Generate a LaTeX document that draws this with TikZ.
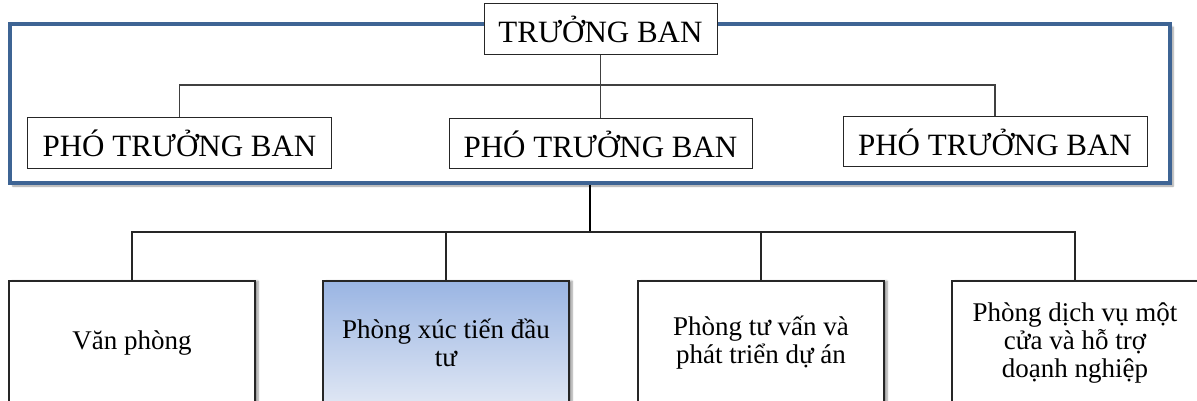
\documentclass[tikz,border=0pt]{standalone}
\usepackage{fontspec}
\setmainfont{Liberation Serif}
\usetikzlibrary{shadows.blur}
\definecolor{framecol}{HTML}{3E6494}
\definecolor{linkgray}{HTML}{404040}
\definecolor{gradtop}{HTML}{9AB5E3}
\definecolor{gradbot}{HTML}{E0E7F4}
\tikzset{
  lead/.style={draw=black!85, line width=1pt, fill=white, inner sep=0pt,
    font=\fontsize{31}{36}\selectfont},
  unit/.style={draw=black!85, line width=1.1pt, fill=white, inner sep=0pt,
    minimum width=246, minimum height=124, align=center,
    font=\fontsize{27}{28}\selectfont,
    blur shadow={shadow xshift=3pt, shadow yshift=0pt, shadow blur steps=6,
      shadow blur extra rounding=0pt, shadow opacity=40}},
  shaded unit/.style={unit, top color=gradtop, bottom color=gradbot},
  board/.style={draw=framecol, line width=3.5pt, fill=white,
    minimum width=1160, minimum height=159, inner sep=0pt,
    blur shadow={shadow xshift=3pt, shadow yshift=-3pt, shadow blur steps=6,
      shadow opacity=40}},
  thin link/.style={draw=linkgray, line width=1.2pt},
  unit link/.style={draw=black!85, line width=1.3pt},
  trunk/.style={draw=black, line width=2.5pt},
}
\begin{document}
\begin{tikzpicture}[x=1pt, y=-1pt]
\useasboundingbox (0,0) rectangle (1197,401);
\clip (0,0) rectangle (1197,401);

% leadership frame
\node[board] (frame) at (590,103.5) {};

% leadership boxes
\node[lead, minimum width=233, minimum height=51] (head) at (600.5,29.5) {TRƯỞNG BAN};
\node[lead, minimum width=304, minimum height=51] (dep1) at (179.5,143.5) {PHÓ TRƯỞNG BAN};
\node[lead, minimum width=303, minimum height=50] (dep2) at (600.5,144) {PHÓ TRƯỞNG BAN};
\node[lead, minimum width=304, minimum height=50] (dep3) at (995,142) {PHÓ TRƯỞNG BAN};

\coordinate (busA) at (600.5,85);
\draw[thin link] (head.south) -- (dep2.north);
\draw[thin link] (dep1.north) |- (busA) -| (dep3.north);

% departments
\node[unit] (u1) at (132,343) {Văn phòng};
\node[shaded unit] (u2) at (446,343) {Phòng xúc tiến đầu\\tư};
\node[unit] (u3) at (761,343) {Phòng tư vấn và\\phát triển dự án};
\node[unit] (u4) at (1075,343) {Phòng dịch vụ một\\cửa và hỗ trợ\\doạnh nghiệp};

\coordinate (busB) at (590,232);
\draw[trunk] (frame.south) -- (busB);
\draw[unit link] (u1.north) |- (busB) -| (u4.north);
\draw[unit link] (u2.north) -- (u2.north |- busB);
\draw[unit link] (u3.north) -- (u3.north |- busB);
\end{tikzpicture}
\end{document}
